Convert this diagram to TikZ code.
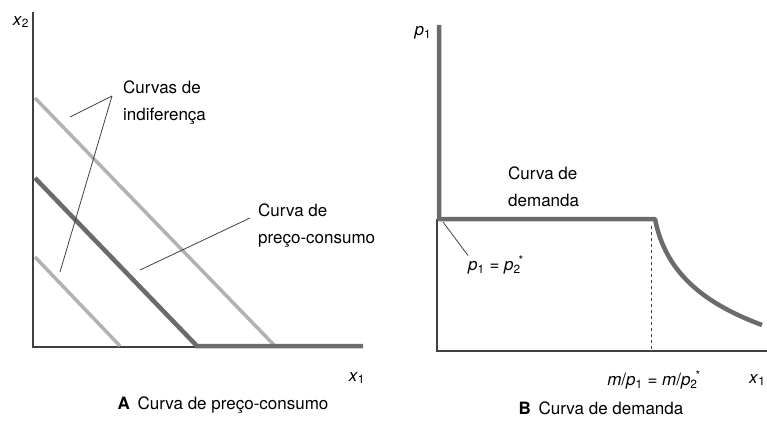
\documentclass[tikz,border=0pt]{standalone}
\usepackage{fontspec}
\setmainfont{TeX Gyre Heros}
\usetikzlibrary{positioning}
\newcommand{\var}[2]{\textit{#1}\textsubscript{#2}}
\newcommand{\varst}[2]{\textit{#1}\textsubscript{#2}\kern-0.12em\textsuperscript{*}}

\begin{document}
\begin{tikzpicture}
[x=1pt,y=-1pt,
 axisline/.style={draw=black!75,line width=1.3pt},
 indiff/.style={draw=black!30,line width=3.5pt},
 demand/.style={draw=black!58,line width=4.5pt,line join=round},
 leader/.style={draw=black!75,line width=0.8pt},
 lbl/.style={font=\fontsize{17}{27}\selectfont,align=left,inner sep=0pt},
 captxt/.style={font=\fontsize{17}{20}\selectfont,inner sep=0pt}]
\useasboundingbox (0,0) rectangle (767,420);
% panel A
\coordinate (ay) at (33,12);
\coordinate (ao) at (33,347);
\coordinate (ax) at (363,347);
\draw[axisline] (ay) -- (ao) -- (ax);
\draw[indiff] (35,98) -- (275,346);
\draw[indiff] (35,257) -- (120,346);
\draw[demand,line join=miter] (35,178) -- (197,346) -- (363,346);
\node[lbl] (xtwo) at (21,22) {\var{x}{2}};
\node[lbl] (xone) at (357,378) {\var{x}{1}};
\node[lbl,anchor=west] (indif) at (123,103) {Curvas de\\indiferença};
\node[lbl,anchor=west] (pcc) at (258,226) {Curva de\\preço-consumo};
\coordinate (vtx) at (112,96);
\draw[leader] (vtx) -- (70,117);
\draw[leader] (vtx) -- (60,272);
\coordinate (pcctip) at (250,218);
\draw[leader] (pcctip) -- (140,270);
\node[captxt] (capa) at (223,405) {\textbf{A}\hspace{0.45em}Curva de preço-consumo};
% panel B
\coordinate (by) at (437,219);
\coordinate (bo) at (437,351);
\coordinate (bx) at (767,351);
\draw[axisline] (by) -- (bo) -- (bx);
\draw[axisline,dashed,line width=0.8pt] (651,226) -- (651,351);
\draw[demand] (439,25) -- (439,219) -- (655,219)
  .. controls (665,270) and (700,302) .. (762,325);
\node[lbl] (pone) at (423,33) {\var{p}{1}};
\node[lbl,anchor=west] (dem) at (508,187) {Curva de\\demanda};
\node[lbl,anchor=west] (peq) at (468,265) {\var{p}{1} = \varst{p}{2}};
\draw[leader] (443,222) -- (peq.north west);
\node[lbl] (mp) at (654,380) {\textit{m}/\var{p}{1} = \textit{m}/\varst{p}{2}};
\node[lbl,anchor=west] (xoneb) at (749,380) {\var{x}{1}};
\node[captxt] (capb) at (601,408) {\textbf{B}\hspace{0.45em}Curva de demanda};
\end{tikzpicture}
\end{document}
